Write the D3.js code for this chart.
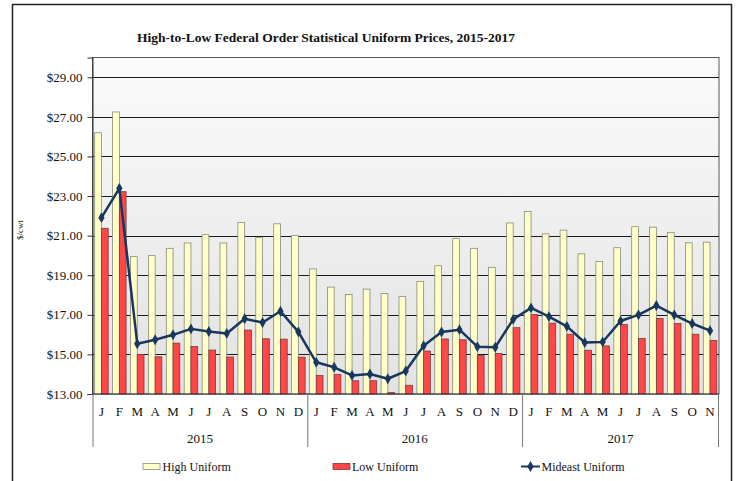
<!DOCTYPE html>
<html>
<head>
<meta charset="utf-8">
<script src="https://cdn.jsdelivr.net/npm/d3@7"></script>
<style>
  html, body { margin: 0; padding: 0; background: #fff; }
  svg { display: block; }
  svg text { font-family: "Liberation Serif", "DejaVu Serif", serif !important; }
</style>
</head>
<body>
<svg id="chart" width="738" height="481"></svg>
<script>
const monthLetters = ["J","F","M","A","M","J","J","A","S","O","N","D"];
const years = ["2015", "2016", "2017"];
const months = [
  "2015-01","2015-02","2015-03","2015-04","2015-05","2015-06","2015-07","2015-08","2015-09","2015-10","2015-11","2015-12",
  "2016-01","2016-02","2016-03","2016-04","2016-05","2016-06","2016-07","2016-08","2016-09","2016-10","2016-11","2016-12",
  "2017-01","2017-02","2017-03","2017-04","2017-05","2017-06","2017-07","2017-08","2017-09","2017-10","2017-11"
];
const highUniform = [
  26.20, 27.25, 19.94, 19.99, 20.36, 20.63, 21.05, 20.63, 21.67, 20.90, 21.60, 21.00,
  19.32, 18.40, 18.03, 18.30, 18.08, 17.92, 18.69, 19.48, 20.85, 20.36, 19.40, 21.64,
  22.22, 21.09, 21.28, 20.08, 19.69, 20.39, 21.45, 21.43, 21.15, 20.64, 20.67
];
const lowUniform = [
  21.37, 23.22, 15.00, 14.88, 15.57, 15.40, 15.22, 14.87, 16.23, 15.79, 15.77, 14.86,
  13.93, 13.98, 13.67, 13.67, 13.07, 13.44, 15.17, 15.78, 15.74, 14.94, 15.05, 16.35,
  17.01, 16.58, 16.02, 15.21, 15.43, 16.51, 15.80, 16.81, 16.56, 16.02, 15.70
];
const mideastUniform = [
  21.91, 23.39, 15.54, 15.74, 15.99, 16.29, 16.16, 16.06, 16.80, 16.61, 17.18, 16.14,
  14.60, 14.35, 13.94, 14.01, 13.77, 14.16, 15.44, 16.13, 16.25, 15.39, 15.36, 16.77,
  17.35, 16.91, 16.42, 15.60, 15.63, 16.69, 17.00, 17.47, 17.00, 16.56, 16.20
];
const yTicks = [13, 15, 17, 19, 21, 23, 25, 27, 29];

(function () {
const FONT = "'Liberation Serif', 'DejaVu Serif', serif";
const svg = d3.select("#chart").attr("font-family", FONT);
const pLeft = 92.5, pRight = 719, pTop = 57.5, pBottom = 394;

// outer frame
svg.append("rect").attr("x", 12.5).attr("y", 4.5).attr("width", 719).attr("height", 490)
  .attr("fill", "#fff").attr("stroke", "#222").attr("stroke-width", 1.5);

// gradient
const defs = svg.append("defs");
const grad = defs.append("linearGradient").attr("id", "bg").attr("x1", 0).attr("y1", 0).attr("x2", 0).attr("y2", 1);
grad.append("stop").attr("offset", "0%").attr("stop-color", "#fbfbfb");
grad.append("stop").attr("offset", "100%").attr("stop-color", "#e2e2e2");

const x = d3.scaleBand().domain(months).range([pLeft, pRight]).paddingInner(0).paddingOuter(0);
const y = d3.scaleLinear().domain([13, 30]).range([pBottom, pTop]);

svg.append("rect").attr("x", pLeft).attr("y", pTop).attr("width", pRight - pLeft).attr("height", pBottom - pTop)
  .attr("fill", "url(#bg)").attr("stroke", "#555").attr("stroke-width", 1);

// gridlines
svg.append("g").selectAll("line").data(yTicks.filter(t => t > 13)).join("line")
  .attr("x1", pLeft).attr("x2", pRight)
  .attr("y1", d => Math.round(y(d)) + 0.5).attr("y2", d => Math.round(y(d)) + 0.5)
  .attr("stroke", "#1a1a1a").attr("stroke-width", 1);

// y axis
const yAxis = d3.axisLeft(y).tickValues(yTicks).tickSize(5).tickPadding(5)
  .tickFormat(d => "$" + d3.format(".2f")(d));
const yg = svg.append("g").attr("transform", `translate(${pLeft},0)`).call(yAxis)
  .attr("font-family", FONT).attr("font-size", 13);
yg.select(".domain").attr("stroke", "#333");
yg.selectAll(".tick line").attr("stroke", "#333");
yg.selectAll("text").attr("fill", "#111");

// bars
const bandW = x.bandwidth();
const groupPad = 2.2;
const barW = (bandW - 2 * groupPad) / 2;
svg.append("g").selectAll("rect").data(months).join("rect")
  .attr("x", d => x(d) + groupPad)
  .attr("y", (d, i) => y(highUniform[i]))
  .attr("width", barW)
  .attr("height", (d, i) => pBottom - y(highUniform[i]))
  .attr("fill", "#ffffc8").attr("stroke", "#8a8a7a").attr("stroke-width", 0.8);
svg.append("g").selectAll("rect").data(months).join("rect")
  .attr("x", d => x(d) + groupPad + barW)
  .attr("y", (d, i) => y(lowUniform[i]))
  .attr("width", barW)
  .attr("height", (d, i) => pBottom - y(lowUniform[i]))
  .attr("fill", "#ff4747").attr("stroke", "#7a3a3a").attr("stroke-width", 0.8);

// bottom axis line
svg.append("line").attr("x1", pLeft).attr("x2", pRight).attr("y1", pBottom).attr("y2", pBottom)
  .attr("stroke", "#333").attr("stroke-width", 1);

// mideast line
const line = d3.line().x((d, i) => x(months[i]) + bandW / 2).y(d => y(d));
svg.append("path").datum(mideastUniform).attr("d", line)
  .attr("fill", "none").attr("stroke", "#17375e").attr("stroke-width", 2.5).attr("stroke-linejoin", "round");
const diamond = d3.symbol().type(d3.symbolDiamond).size(34);
svg.append("g").selectAll("path").data(mideastUniform).join("path")
  .attr("transform", (d, i) => `translate(${x(months[i]) + bandW / 2},${y(d)})`)
  .attr("d", diamond).attr("fill", "#17375e");

// x axis: month letters
svg.append("g").selectAll("text").data(months).join("text")
  .attr("x", d => x(d) + bandW / 2).attr("y", 416)
  .attr("text-anchor", "middle").attr("font-size", 13).attr("fill", "#111")
  .text((d, i) => monthLetters[i % 12]);

// year separators
const sepIdx = [0, 12, 24];
svg.append("g").selectAll("line").data(sepIdx).join("line")
  .attr("x1", d => x(months[d]) + 0.5).attr("x2", d => x(months[d]) + 0.5)
  .attr("y1", pBottom).attr("y2", 447).attr("stroke", "#777").attr("stroke-width", 1);
svg.append("line").attr("x1", pRight - 0.5).attr("x2", pRight - 0.5).attr("y1", pBottom).attr("y2", 447)
  .attr("stroke", "#777").attr("stroke-width", 1);

// year labels
svg.append("g").selectAll("text").data(years).join("text")
  .attr("x", (d, i) => {
    const s = x(months[i * 12]);
    const e = i < 2 ? x(months[i * 12 + 12]) : pRight;
    return (s + e) / 2;
  })
  .attr("y", 443).attr("text-anchor", "middle").attr("font-size", 13).attr("fill", "#111")
  .text(d => d);

// y label
svg.append("text").attr("transform", "translate(23,230) rotate(-90)")
  .attr("text-anchor", "middle").attr("font-size", 9).attr("fill", "#222").text("$/cwt");

// title
svg.append("text").attr("x", 326).attr("y", 42).attr("text-anchor", "middle")
  .attr("font-size", 13.5).attr("font-weight", "bold").attr("fill", "#111")
  .text("High-to-Low Federal Order Statistical Uniform Prices, 2015-2017");

// legend
const lg = svg.append("g").attr("font-size", 12).attr("fill", "#111");
lg.append("rect").attr("x", 143).attr("y", 463.5).attr("width", 17).attr("height", 6)
  .attr("fill", "#ffffc8").attr("stroke", "#8a8a7a").attr("stroke-width", 0.8);
lg.append("text").attr("x", 162.5).attr("y", 471).text("High Uniform");
lg.append("rect").attr("x", 333).attr("y", 463.5).attr("width", 17).attr("height", 6)
  .attr("fill", "#ff4747").attr("stroke", "#7a3a3a").attr("stroke-width", 0.8);
lg.append("text").attr("x", 352).attr("y", 471).text("Low Uniform");
lg.append("line").attr("x1", 521).attr("x2", 540).attr("y1", 466.5).attr("y2", 466.5)
  .attr("stroke", "#17375e").attr("stroke-width", 2);
lg.append("path").attr("transform", "translate(530.5,466.5)").attr("d", diamond).attr("fill", "#17375e");
lg.append("text").attr("x", 541.5).attr("y", 471).text("Mideast Uniform");
})();
</script>
</body>
</html>
